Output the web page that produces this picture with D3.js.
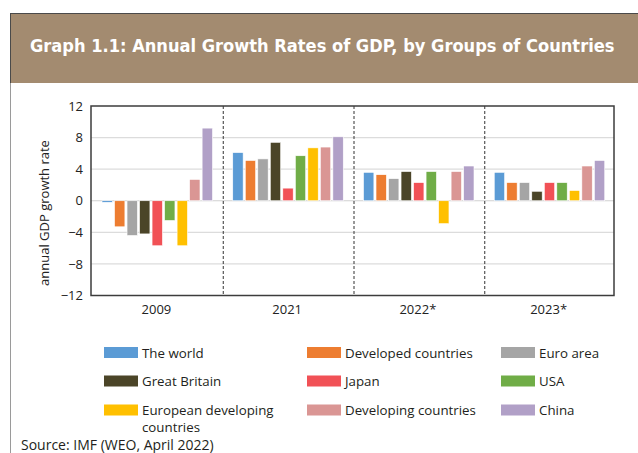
<!DOCTYPE html>
<html><head><meta charset="utf-8">
<script src="https://cdn.jsdelivr.net/npm/d3@7/dist/d3.min.js"></script>
<style>html,body{margin:0;padding:0;background:#fff;}svg{display:block;}</style>
</head><body>
<script>
const years = ["2009", "2021", "2022*", "2023*"];
const seriesNames = ["The world", "Developed countries", "Euro area", "Great Britain", "Japan", "USA", "European developing countries", "Developing countries", "China"];
const colors = ["#5b9bd5", "#ed7d31", "#a5a5a5", "#4b4528", "#f15156", "#70ad47", "#ffc000", "#da9694", "#b1a0c7"];
const theWorld = [-0.2, 6.1, 3.6, 3.6];
const developed = [-3.3, 5.1, 3.3, 2.3];
const euroArea = [-4.4, 5.3, 2.8, 2.3];
const greatBritain = [-4.2, 7.4, 3.7, 1.2];
const japan = [-5.7, 1.6, 2.3, 2.3];
const usa = [-2.5, 5.7, 3.7, 2.3];
const euroDeveloping = [-5.7, 6.7, -2.9, 1.3];
const developing = [2.7, 6.8, 3.7, 4.4];
const china = [9.2, 8.1, 4.4, 5.1];
const yTicks = [-12, -8, -4, 0, 4, 8, 12];
const seriesValues = [theWorld, developed, euroArea, greatBritain, japan, usa, euroDeveloping, developing, china];

const W = 638, H = 453;
const svg = d3.select("body").append("svg").attr("width", W).attr("height", H);
const font = "'Open Sans', 'Noto Sans', sans-serif";

// left border line
svg.append("line").attr("x1", 10.5).attr("x2", 10.5).attr("y1", 13).attr("y2", H)
  .attr("stroke", "#9a9a9a").attr("stroke-width", 1);
// header band
svg.append("rect").attr("x", 10).attr("y", 13).attr("width", W - 10).attr("height", 70).attr("fill", "#a38b70");
svg.append("line").attr("x1", 10).attr("x2", W).attr("y1", 13.5).attr("y2", 13.5).attr("stroke", "#4a4a4a").attr("stroke-width", 1);
svg.append("line").attr("x1", 10.5).attr("x2", 10.5).attr("y1", 13).attr("y2", 83).attr("stroke", "#4a4a4a").attr("stroke-width", 1);
const title = svg.append("text").attr("x", 30).attr("y", 51.5)
  .attr("font-family", "'DejaVu Sans Condensed', 'Open Sans', sans-serif").attr("font-weight", 700).attr("font-size", 20)
  .attr("fill", "#fff")
  .text("Graph 1.1: Annual Growth Rates of GDP, by Groups of Countries");
const tw = title.node().getComputedTextLength();
const fs = Math.min(21, 20 * 585 / tw);
title.attr("font-size", fs);

const pLeft = 91, pRight = 614, pTop = 106, pBottom = 295.5;
const x = d3.scaleBand().domain(years).range([pLeft, pRight]).padding(0);
const xs = d3.scaleBand().domain(seriesNames).range([11, 121.5]).paddingInner(0.17).paddingOuter(0);
const y = d3.scaleLinear().domain([-12, 12]).range([pBottom, pTop]);

// gridlines
svg.append("g").selectAll("line").data(yTicks.filter(t => t !== 12 && t !== -12)).join("line")
  .attr("x1", pLeft).attr("x2", pRight).attr("y1", d => y(d)).attr("y2", d => y(d))
  .attr("stroke", d => d === 0 ? "#d0d0d0" : "#dcdcdc").attr("stroke-width", 1.2);

// separators
svg.append("g").selectAll("line").data(years.slice(1)).join("line")
  .attr("x1", d => x(d) + 1.5).attr("x2", d => x(d) + 1.5).attr("y1", pTop).attr("y2", pBottom)
  .attr("stroke", "#333").attr("stroke-width", 1).attr("stroke-dasharray", "3,2");

// bars
const flat = [];
years.forEach((yr, i) => seriesNames.forEach((s, j) => flat.push({ yr, s, v: seriesValues[j][i], c: colors[j] })));
svg.append("g").selectAll("rect").data(flat).join("rect")
  .attr("x", d => x(d.yr) + xs(d.s)).attr("width", xs.bandwidth())
  .attr("y", d => y(Math.max(0, d.v))).attr("height", d => Math.abs(y(d.v) - y(0)))
  .attr("fill", d => d.c).attr("stroke", "#fff").attr("stroke-width", 0.6);

// frame
svg.append("rect").attr("x", pLeft).attr("y", pTop).attr("width", pRight - pLeft).attr("height", pBottom - pTop)
  .attr("fill", "none").attr("stroke", "#3c3c3c").attr("stroke-width", 1.5);

// y axis
const yAxis = svg.append("g").attr("transform", `translate(${pLeft},0)`)
  .call(d3.axisLeft(y).tickValues(yTicks).tickSize(0).tickPadding(8));
yAxis.select(".domain").remove();
yAxis.selectAll("text").attr("font-family", font).attr("font-size", 13).attr("fill", "#222");

// x axis labels
const xAxis = svg.append("g").attr("transform", `translate(0,${pBottom})`)
  .call(d3.axisBottom(x).tickSize(0).tickPadding(9));
xAxis.select(".domain").remove();
xAxis.selectAll("text").attr("font-family", font).attr("font-size", 13).attr("fill", "#222");

// y label
svg.append("text").attr("transform", "translate(49,213) rotate(-90)")
  .attr("text-anchor", "middle").attr("font-family", font).attr("font-size", 13).attr("fill", "#222")
  .text("annual GDP growth rate");

// legend
const colX = [104, 307, 501];
const rowY = [352.5, 381, 410];
const lg = svg.append("g");
seriesNames.forEach((s, i) => {
  const cx = colX[i % 3], cy = rowY[Math.floor(i / 3)];
  lg.append("rect").attr("x", cx).attr("y", cy - 5.5).attr("width", 34).attr("height", 11).attr("fill", colors[i]);
  const t = lg.append("text").attr("x", cx + 38).attr("y", cy + 5)
    .attr("font-family", font).attr("font-size", 13.3).attr("fill", "#231f20");
  if (s === "European developing countries") {
    t.append("tspan").attr("x", cx + 38).attr("dy", 0).text("European developing");
    t.append("tspan").attr("x", cx + 38).attr("dy", 17).text("countries");
  } else t.text(s);
});

svg.append("text").attr("x", 21).attr("y", 449.5).attr("font-family", font).attr("font-size", 14).attr("fill", "#231f20")
  .text("Source: IMF (WEO, April 2022)");
</script>
</body></html>
